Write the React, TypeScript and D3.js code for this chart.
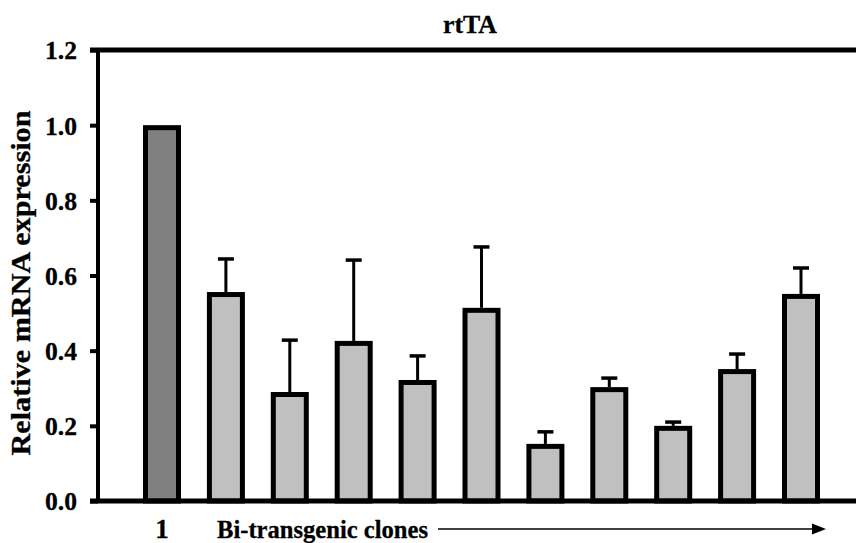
import React, { useEffect, useRef } from "react";
import * as d3 from "d3";

const title = "rtTA";
const yAxisLabel = "Relative mRNA expression";
const xGroupLabel = "Bi-transgenic clones";
const clones = ["1", "2", "3", "4", "5", "6", "7", "8", "9", "10", "11"];
const means = [1.0, 0.556, 0.29, 0.426, 0.322, 0.514, 0.152, 0.303, 0.2, 0.351, 0.551];
const errors = [0, 0.088, 0.138, 0.215, 0.064, 0.162, 0.032, 0.024, 0.01, 0.04, 0.069];
const yTicks = [0, 0.2, 0.4, 0.6, 0.8, 1.0, 1.2];

const W = 856;
const H = 543;
const FONT = "'Liberation Serif', 'Times New Roman', Times, serif";

export default function App() {
  const axisRef = useRef<SVGGElement>(null);

  const y = d3.scaleLinear().domain([0, 1.2]).range([501, 50]);
  const step = 63.9;
  const pi = 1 - 38 / step;
  const po = 0.2;
  const x0 = 143 - po * step;
  const x = d3
    .scaleBand<string>()
    .domain(clones)
    .range([x0, x0 + step * (clones.length - pi + 2 * po)])
    .paddingInner(pi)
    .paddingOuter(po);
  const sw = 5;

  useEffect(() => {
    if (!axisRef.current) return;
    const g = d3.select(axisRef.current);
    g.selectAll("*").remove();
    const axis = d3
      .axisLeft(y)
      .tickValues(yTicks)
      .tickSize(8)
      .tickPadding(13)
      .tickFormat(d3.format(".1f") as any);
    g.call(axis as any);
    g.attr("font-family", null).attr("font-size", null);
    g.select(".domain").remove();
    g.selectAll(".tick line").attr("stroke", "#000").attr("stroke-width", 4);
    g.selectAll(".tick text")
      .attr("font-family", FONT)
      .attr("font-weight", "bold")
      .attr("font-size", 26)
      .attr("fill", "#000")
      .attr("stroke", "#000")
      .attr("stroke-width", 0.3)
      .attr("textLength", 32)
      .attr("lengthAdjust", "spacingAndGlyphs")
      .attr("dy", "0.34em");
  }, []);

  const textStyle = {
    fontFamily: FONT,
    fontWeight: "bold" as const,
    stroke: "#000",
    strokeWidth: 0.3,
  };

  return (
    <svg
      width={W}
      height={H}
      style={{ position: "absolute", left: 0, top: 0, background: "#fff" }}
    >
      <rect x={0} y={0} width={W} height={H} fill="#fff" />
      <text
        x={470}
        y={33}
        textAnchor="middle"
        style={textStyle}
        fontSize={25}
        textLength={54}
        lengthAdjust="spacingAndGlyphs"
      >
        {title}
      </text>

      {/* error bars */}
      {clones.map((c, i) =>
        errors[i] > 0 ? (
          <g key={"e" + c}>
            <line
              x1={(x(c) as number) + x.bandwidth() / 2}
              x2={(x(c) as number) + x.bandwidth() / 2}
              y1={y(means[i])}
              y2={y(means[i] + errors[i])}
              stroke="#000"
              strokeWidth={3}
            />
            <line
              x1={(x(c) as number) + x.bandwidth() / 2 - 8}
              x2={(x(c) as number) + x.bandwidth() / 2 + 8}
              y1={y(means[i] + errors[i])}
              y2={y(means[i] + errors[i])}
              stroke="#000"
              strokeWidth={3.5}
            />
          </g>
        ) : null
      )}

      {/* bars */}
      {clones.map((c, i) => (
        <rect
          key={"b" + c}
          x={(x(c) as number) + sw / 2}
          y={y(means[i]) + sw / 2}
          width={x.bandwidth() - sw}
          height={y(0) - y(means[i]) - sw / 2}
          fill={i === 0 ? "#808080" : "#c0c0c0"}
          stroke="#000"
          strokeWidth={sw}
        />
      ))}

      {/* frame lines */}
      <line x1={90} x2={W} y1={50} y2={50} stroke="#000" strokeWidth={5} />
      <line x1={90} x2={W} y1={501} y2={501} stroke="#000" strokeWidth={5} />
      <line x1={98} x2={98} y1={48} y2={503} stroke="#000" strokeWidth={4} />
      <g ref={axisRef} transform="translate(98,0)" />

      {/* y label */}
      <text
        transform={`translate(30,283) rotate(-90)`}
        textAnchor="middle"
        style={textStyle}
        fontSize={27}
        textLength={345}
        lengthAdjust="spacingAndGlyphs"
      >
        {yAxisLabel}
      </text>

      {/* x labels */}
      <text
        x={(x(clones[0]) as number) + x.bandwidth() / 2}
        y={538}
        textAnchor="middle"
        style={textStyle}
        fontSize={27}
      >
        {clones[0]}
      </text>
      <text
        x={217}
        y={538}
        style={textStyle}
        fontSize={26}
        textLength={211}
        lengthAdjust="spacingAndGlyphs"
      >
        {xGroupLabel}
      </text>
      <line x1={438} x2={815} y1={529} y2={529} stroke="#000" strokeWidth={1.6} />
      <path d="M812,523.5 L826,529 L812,534.5 Z" fill="#000" />
    </svg>
  );
}
